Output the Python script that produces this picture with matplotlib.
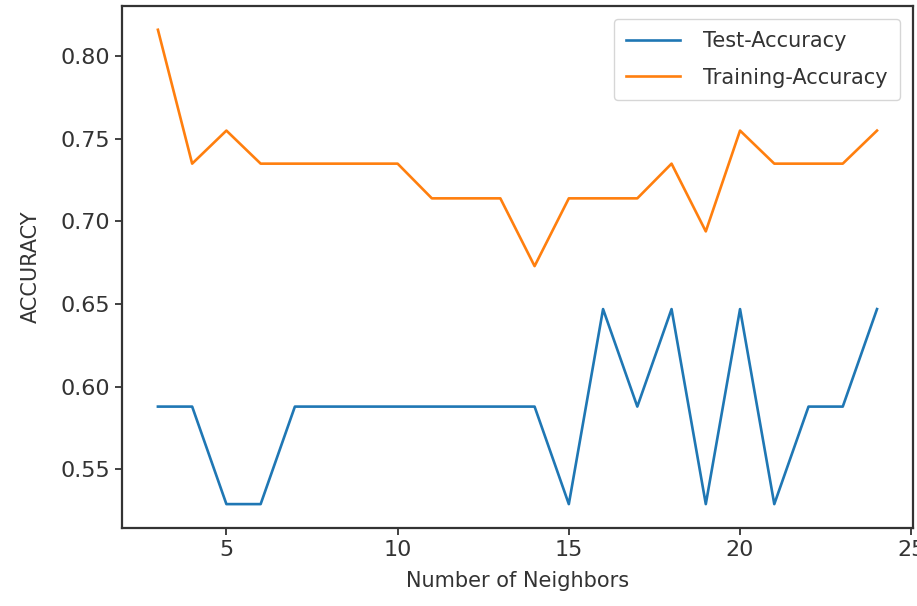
import numpy as np
from matplotlib import pyplot as plt

neighbors = np.arange(3, 25)
test_accuracy = [0.588, 0.588, 0.529, 0.529, 0.588, 0.588, 0.588, 0.588, 0.588, 0.588,
                 0.588, 0.588, 0.529, 0.647, 0.588, 0.647, 0.529, 0.647, 0.529, 0.588,
                 0.588, 0.647]
train_accuracy = [0.816, 0.735, 0.755, 0.735, 0.735, 0.735, 0.735, 0.735, 0.714, 0.714,
                  0.714, 0.673, 0.714, 0.714, 0.714, 0.735, 0.694, 0.755, 0.735, 0.735,
                  0.735, 0.755]

plt.rcParams['text.color'] = '#333333'
plt.rcParams['xtick.color'] = '#333333'
plt.rcParams['ytick.color'] = '#333333'
plt.rcParams['axes.labelcolor'] = '#333333'

fig = plt.figure(figsize=(9.17, 6.06), dpi=100)
plt.subplots_adjust(left=0.133, right=0.9956, top=0.990, bottom=0.129)

plt.plot(neighbors, test_accuracy, label='Test-Accuracy', linewidth=1.9)
plt.plot(neighbors, train_accuracy, label='Training-Accuracy', linewidth=1.9)
plt.legend(fontsize=15, labelspacing=0.8, handlelength=2.6, borderpad=0.6,
           handletextpad=1.1, borderaxespad=0.6)
plt.xlabel('Number of Neighbors', fontsize=15, labelpad=8)
plt.ylabel('ACCURACY', fontsize=15, labelpad=14)
plt.xticks(fontsize=16)
plt.yticks(fontsize=16)
ax = plt.gca()
for s in ax.spines.values():
    s.set_linewidth(1.6)
    s.set_color('#333333')
ax.tick_params(width=1.3, length=5)

plt.savefig('out.png')
